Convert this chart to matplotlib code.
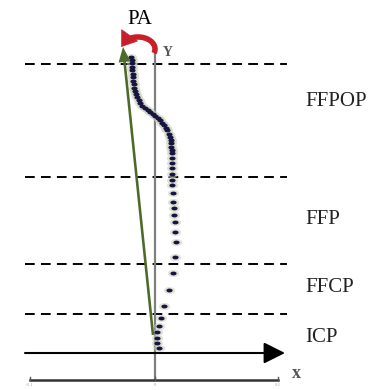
import numpy as np
import matplotlib
matplotlib.use("Agg")
import matplotlib.pyplot as plt
from matplotlib.path import Path

plt.rcParams['font.family'] = ['Liberation Serif', 'DejaVu Serif']

# Centre-of-pressure path (mediolateral, anteroposterior) in the foot frame
cop_ml = [-24, -23.5, -23, -23, -23, -22.5, -22, -22, -21.5, -21, -20, -19, -18,
          -16.5, -15, -13, -10, -7.5, -5, -2.5, 0, 2.5, 5, 7, 9, 10.5, 12, 13.5,
          15, 15.5, 16, 16.3, 16.5, 16.5, 17, 17, 17, 17, 17, 17, 18, 18, 19, 19,
          20, 20, 21, 20, 18, 14, 9, 6, 4, 2, 2, 2, 4]
cop_ap = [296, 293, 290, 286, 283, 279, 276, 272, 269, 265, 262, 259, 256,
          253, 250, 247.5, 245, 243, 241, 239, 237, 235, 233, 230.5, 228, 225.5,
          223, 219.5, 216, 213, 210, 206.5, 203, 200, 195, 190, 185, 179, 173,
          168, 160, 151, 145, 138, 131, 121, 111, 96, 80, 63, 47, 35, 27, 21, 15,
          10, 5]

# Phase boundaries along the foot axis and their labels
phase_bounds = [289, 176, 89, 39]
phase_names = ["FFPOP", "FFP", "FFCP", "ICP"]
phase_label_ap = [252, 133, 65, 16]

# Progression-angle vector (heel point -> toe point)
pa_start = (-2, 18)
pa_end = (-32, 306)

# Bottom reference axis
xaxis_ticks = [-125, 0, 123]
xaxis_ticklabels = ["-0.1", "0", "0.1"]

fig = plt.figure(figsize=(3.74, 3.90), dpi=100)
ax = fig.add_axes([0, 0, 1, 1])
ax.set_xlim(-155, 219)
ax.set_ylim(-37, 353)
ax.axis("off")

# Phase separators
for b in phase_bounds:
    ax.plot([-130, 132], [b, b], color="black", lw=1.4, ls=(0, (5, 3.2)),
            zorder=2)

# Vertical Y axis of the foot frame
ax.plot([0, 0], [-27, 301], color="#7f7f7f", lw=1.6, zorder=3)
ax.text(13, 301, "Y", fontsize=10, fontweight="bold", color="#555555",
        ha="center", va="center", zorder=5)

# Horizontal X arrow
ax.annotate("", xy=(130, 0), xytext=(-130, 0),
            arrowprops=dict(arrowstyle="-|>,head_length=1.0,head_width=0.5",
                            color="black", lw=1.5, mutation_scale=13,
                            shrinkA=0, shrinkB=0),
            zorder=4)

# Bottom reference axis with end ticks
ax.plot([xaxis_ticks[0], xaxis_ticks[-1]], [-27, -27], color="#333333",
        lw=1.8, zorder=3)
for t, lab in zip(xaxis_ticks, xaxis_ticklabels):
    ax.plot([t, t], [-27, -24], color="#555555", lw=1.0, zorder=3)
    ax.text(t, -32, lab, fontsize=3.5, color="#aaaaaa", ha="center",
            va="center")
ax.text(141, -21, "x", fontsize=13, fontweight="bold", color="#555555",
        ha="center", va="center")

# Flattened ellipse marker for the pressure samples
t = np.linspace(0, 2 * np.pi, 30)
ellipse = Path(np.column_stack([np.cos(t), 0.62 * np.sin(t)]), closed=True)

# Centre-of-pressure samples: pale halo then dark core
ax.scatter(cop_ml, cop_ap, s=66, marker=ellipse, color="#c9ccb9", alpha=0.55,
           lw=0, zorder=5)
ax.scatter(cop_ml, cop_ap, s=20, marker=ellipse, color="#15153f", lw=0,
           zorder=6)

# Progression-angle arrow
ax.arrow(pa_start[0], pa_start[1], pa_end[0] - pa_start[0],
         pa_end[1] - pa_start[1], width=2.6, head_width=12, head_length=15,
         length_includes_head=True, color="#4e6a2b", lw=0, zorder=7)

# Rotation marker for the progression angle: elliptical arc with a head
cx, cy, rx, ry = -17, 304, 17, 12
theta = np.radians(np.linspace(-20, 140, 40))
ax.plot(cx + rx * np.cos(theta), cy + ry * np.sin(theta), color="#c8202a",
        lw=4.0, solid_capstyle="butt", zorder=8)
a0, a1 = np.radians(136), np.radians(170)
ax.annotate("", xy=(cx + rx * np.cos(a1), cy + ry * np.sin(a1)),
            xytext=(cx + rx * np.cos(a0), cy + ry * np.sin(a0)),
            arrowprops=dict(arrowstyle="-|>,head_length=0.7,head_width=0.5",
                            color="#c8202a", lw=0.5, mutation_scale=14,
                            shrinkA=0, shrinkB=0),
            zorder=8)
ax.text(-15, 334, "PA", fontsize=15, color="black", ha="center",
        va="center")

for name, y in zip(phase_names, phase_label_ap):
    ax.text(150, y, name, fontsize=15, color="#222222", ha="left",
            va="center")

fig.savefig("out.png", dpi=100)
